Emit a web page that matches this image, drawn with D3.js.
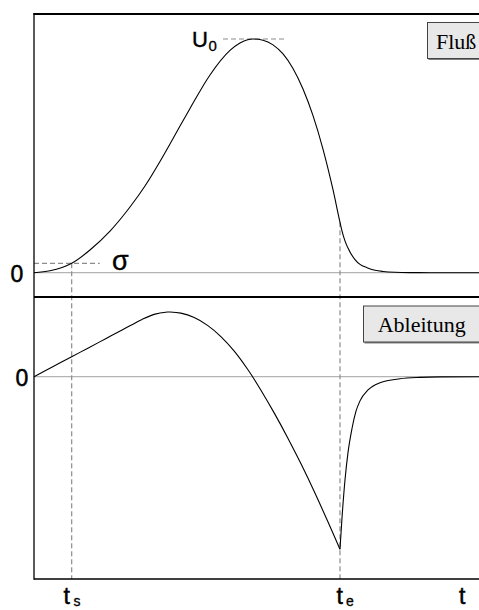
<!DOCTYPE html>
<html>
<head>
<meta charset="utf-8">
<script src="https://cdn.jsdelivr.net/npm/d3@7"></script>
<style>
  html, body { margin: 0; padding: 0; background: #fff; }
  svg { display: block; }
</style>
</head>
<body>
<script>
// Flux curve (top panel): time t and normalised flux U
const fluxT = [0, 3.6, 8.47, 12.58, 17.08, 21.57, 24.94, 28.31, 30.56, 32.81, 35.06, 39.55, 44.04, 46.29, 49.21,
  51.46, 53.71, 55.96, 58.2, 60.45, 62.7, 64.94, 67.19, 68.76, 69.21, 69.88, 71.01, 72.13, 73.26, 74.83, 76.63,
  78.43, 81.12, 84.49, 88.99, 100];
const fluxU = [0, 0.008, 0.04, 0.097, 0.178, 0.281, 0.371, 0.476, 0.551, 0.628, 0.703, 0.846, 0.951, 0.983, 1.0,
  0.995, 0.975, 0.936, 0.874, 0.786, 0.672, 0.529, 0.355, 0.216, 0.179, 0.136, 0.0886, 0.0562, 0.0356, 0.0216, 0.0108,
  0.0054, 0.0017, 0.0004, 0, 0];

// Derivative (bottom panel) up to the end time te
const derivT = [0, 4, 8.47, 12, 16, 20, 24.29, 27, 30, 30.56, 33, 36, 39, 42, 45, 48, 49.12,
  51, 54, 57, 60, 63, 66, 68.76];
const derivD = [0, 0.0547, 0.1157, 0.164, 0.2186, 0.2733, 0.3319, 0.361, 0.3745, 0.3749, 0.3684, 0.3426, 0.2972,
  0.2323, 0.1476, 0.0434, 0, -0.0782, -0.211, -0.3532, -0.505, -0.6667, -0.8378, -1];

// Derivative after te: fast return to zero
const decayT = [68.76, 69.21, 69.88, 70.56, 71.46, 72.36, 73.26, 75.06, 77.75, 82.25, 86.74, 91.24, 100];
const decayD = [-1, -0.82, -0.60, -0.44, -0.30, -0.20, -0.14, -0.077, -0.035, -0.012, -0.004, -0.001, 0];

// Marked times and levels
const tS = 8.47, tE = 68.76, tPeak = 49.21;
const sigma = 0.04, uPeak = 1.0, uAtTe = 0.216;

const W = 479, H = 610;
const left = 34, panelTop = 14, divider = 297, bottom = 579;

const svg = d3.select("body").append("svg").attr("width", W).attr("height", H);
svg.append("rect").attr("width", W).attr("height", H).attr("fill", "#fff");

const x = d3.scaleLinear().domain([0, 100]).range([left, W]);
const yU = d3.scaleLinear().domain([0, 1]).range([272.7, 39]);
const yD = d3.scaleLinear().domain([-1, 0]).range([549.3, 376.7]);

const dash = "#8c8c8c";

// zero lines
svg.append("line").attr("x1", left).attr("x2", W).attr("y1", yU(0)).attr("y2", yU(0))
  .attr("stroke", "#b4b4b4").attr("stroke-width", 1.2);
svg.append("line").attr("x1", left).attr("x2", W).attr("y1", yD(0)).attr("y2", yD(0))
  .attr("stroke", "#b4b4b4").attr("stroke-width", 1.2);

// dashed guide lines
const dashed = (x1, y1, x2, y2) => svg.append("line")
  .attr("x1", x1).attr("y1", y1).attr("x2", x2).attr("y2", y2)
  .attr("stroke", dash).attr("stroke-width", 1.2).attr("stroke-dasharray", "5,3");
dashed(left, yU(sigma), x(tS) + 28, yU(sigma));
dashed(x(tS), yU(sigma), x(tS), bottom);
dashed(x(tPeak) - 30, yU(uPeak), x(tPeak) + 33, yU(uPeak));
dashed(x(tE), yU(uAtTe), x(tE), bottom);

// curves
const smooth = d3.line().x(d => x(d[0])).y(d => d[1]).curve(d3.curveCatmullRom.alpha(0.5));
const mono = d3.line().x(d => x(d[0])).y(d => d[1]).curve(d3.curveMonotoneX);
svg.append("path").attr("d", mono(fluxT.map((t, i) => [t, yU(fluxU[i])])))
  .attr("fill", "none").attr("stroke", "#000").attr("stroke-width", 1.1);
svg.append("path").attr("d", smooth(derivT.map((t, i) => [t, yD(derivD[i])])))
  .attr("fill", "none").attr("stroke", "#000").attr("stroke-width", 1.1);
svg.append("path").attr("d", mono(decayT.map((t, i) => [t, yD(decayD[i])])))
  .attr("fill", "none").attr("stroke", "#000").attr("stroke-width", 1.1);

// frame
svg.append("line").attr("x1", left - 0.5).attr("x2", W).attr("y1", panelTop).attr("y2", panelTop)
  .attr("stroke", "#000").attr("stroke-width", 2);
svg.append("line").attr("x1", left).attr("x2", W).attr("y1", divider).attr("y2", divider)
  .attr("stroke", "#000").attr("stroke-width", 2.2);
svg.append("line").attr("x1", left).attr("x2", W).attr("y1", bottom).attr("y2", bottom)
  .attr("stroke", "#000").attr("stroke-width", 1.4);
svg.append("line").attr("x1", left).attr("x2", left).attr("y1", panelTop - 1).attr("y2", bottom + 0.7)
  .attr("stroke", "#000").attr("stroke-width", 1.3);

// labels
const sans = "'Liberation Sans', Arial, Helvetica, sans-serif";
const serif = "'Liberation Serif', 'Times New Roman', serif";
const txt = (s, xx, yy, size, family, anchor, sw) => svg.append("text")
  .attr("x", xx).attr("y", yy).attr("font-size", size).attr("font-family", family || sans)
  .attr("text-anchor", anchor || "start").attr("fill", "#000")
  .attr("stroke", sw ? "#000" : "none").attr("stroke-width", sw || 0).text(s);

txt("0", 17, yU(0) + 9, 23, sans, "middle", 0.5);
txt("0", 22, yD(0) + 9.5, 23, sans, "middle", 0.5);
txt("σ", 112, yU(sigma) + 7, 27, sans, "start", 0.4);

txt("U", 192, yU(uPeak) + 8, 22, sans, "start", 0.4);
txt("0", 208.5, yU(uPeak) + 12, 15, sans, "start", 0.3);

txt("t", 63.5, 604, 23, sans, "start", 0.5);
txt("s", 73.5, 606, 14, sans, "start", 0.3);
txt("t", 336.5, 604, 23, sans, "start", 0.5);
txt("e", 346, 606, 14, sans, "start", 0.3);
txt("t", 459, 604, 23, sans, "start", 0.5);

// legend-style boxes
const box = (label, bx, by, bw, bh, tx, ty) => {
  svg.append("rect").attr("x", bx + 1).attr("y", by + 1.5).attr("width", bw).attr("height", bh).attr("fill", "#808080");
  svg.append("rect").attr("x", bx).attr("y", by).attr("width", bw).attr("height", bh)
    .attr("fill", "#e8e8e8").attr("stroke", "#444").attr("stroke-width", 1);
  txt(label, tx, ty, 22, serif);
};
box("Fluß", 427.5, 22.5, 70, 36, 436, 49);
box("Ableitung", 363.5, 306, 130, 36, 377.7, 331.5);
</script>
</body>
</html>
